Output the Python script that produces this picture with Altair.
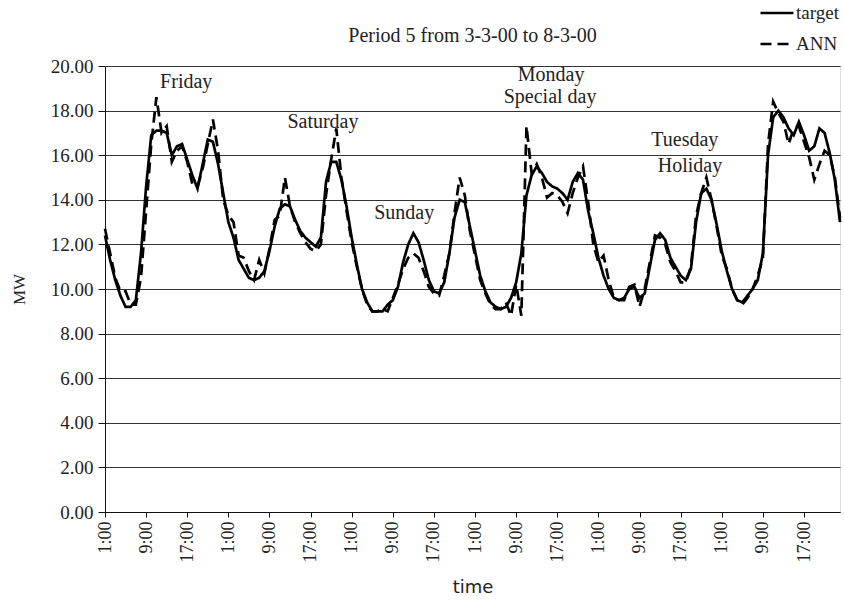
import altair as alt
import pandas as pd

# hourly load, 6 days (Fri 3-3-00 .. Wed 8-3-00), 144 hours
target = [
    12.4, 11.3, 10.4, 9.7, 9.2, 9.2, 9.5, 11.6, 14.6, 16.9, 17.1, 17.1, 17.0, 16.0, 16.4, 16.5, 15.8, 15.1, 14.5, 15.6, 16.7, 16.6, 15.6, 14.3,
    13.0, 12.3, 11.3, 10.9, 10.5, 10.4, 10.5, 10.8, 11.7, 12.8, 13.6, 13.8, 13.7, 13.1, 12.6, 12.3, 12.1, 11.9, 12.3, 14.8, 15.7, 15.7, 14.9, 13.7,
    12.3, 11.1, 10.0, 9.4, 9.0, 9.0, 9.0, 9.3, 9.5, 10.1, 11.2, 12.0, 12.5, 12.1, 11.3, 10.4, 9.9, 9.8, 10.3, 11.6, 13.2, 14.0, 13.9, 12.8,
    11.7, 10.6, 9.9, 9.4, 9.2, 9.1, 9.2, 9.6, 10.3, 11.6, 14.2, 15.1, 15.5, 15.2, 14.8, 14.6, 14.5, 14.3, 14.0, 14.8, 15.2, 14.9, 13.5, 12.5,
    11.4, 10.6, 10.0, 9.6, 9.5, 9.6, 10.0, 10.1, 9.6, 9.8, 11.0, 12.2, 12.5, 12.2, 11.4, 11.0, 10.6, 10.4, 10.9, 13.0, 14.3, 14.5, 14.0, 12.9,
    11.7, 10.8, 10.0, 9.5, 9.4, 9.7, 10.0, 10.4, 11.6, 16.0, 17.7, 18.0, 17.7, 17.2, 16.9, 17.5, 16.9, 16.2, 16.4, 17.2, 17.0, 16.1, 14.9, 13.0,
]
ann = [
    12.7, 11.6, 10.5, 9.9, 9.9, 9.3, 9.3, 10.5, 13.5, 16.5, 18.6, 17.0, 17.3, 15.7, 16.2, 16.4, 15.7, 14.7, 14.6, 15.4, 16.5, 17.6, 16.2, 14.0,
    13.3, 13.0, 11.5, 11.4, 10.8, 10.4, 11.3, 10.7, 11.8, 13.1, 13.3, 15.0, 13.7, 13.0, 12.5, 12.1, 11.8, 11.7, 12.0, 14.2, 15.8, 17.2, 15.0, 13.5,
    12.1, 11.0, 10.0, 9.3, 9.0, 9.0, 9.1, 9.0, 9.6, 10.2, 10.9, 11.4, 11.6, 11.4, 10.8, 10.1, 9.8, 9.7, 10.6, 11.6, 13.4, 15.0, 14.2, 12.6,
    11.5, 10.4, 9.8, 9.3, 9.1, 9.1, 9.4, 8.8, 10.2, 8.8, 17.3, 15.2, 15.6, 15.0, 14.1, 14.3, 14.2, 13.9, 13.4, 14.3, 15.0, 15.5, 13.9, 12.0,
    11.2, 11.5, 10.4, 9.6, 9.5, 9.5, 10.1, 10.2, 9.2, 10.0, 11.2, 12.4, 12.3, 12.0, 11.2, 10.8, 10.3, 10.3, 11.0, 13.3, 14.3, 15.0, 14.0, 12.8,
    11.5, 10.9, 10.0, 9.5, 9.3, 9.6, 10.0, 10.6, 11.4, 16.5, 18.4, 17.9, 17.5, 16.5, 17.2, 17.3, 16.6, 15.9, 14.9, 15.6, 16.2, 16.0, 15.0, 13.2,
]
series_names = ["target", "ANN"]
hour_labels = ["1:00", "9:00", "17:00"]
y_ticks = [0, 2, 4, 6, 8, 10, 12, 14, 16, 18, 20]

note_text = ["Friday", "Saturday", "Sunday", "Monday", "Special day", "Tuesday", "Holiday"]
note_x = [15.8, 42.4, 58.2, 86.8, 86.6, 112.8, 113.8]
note_y = [19.3, 17.5, 13.4, 19.6, 18.6, 16.7, 15.5]

rows = []
for name, vals in zip(series_names, [target, ann]):
    for i, v in enumerate(vals):
        rows.append({"hour": i, "value": v, "series": name})
df = pd.DataFrame(rows)
notes = pd.DataFrame({"x": note_x, "y": note_y, "label": note_text})

SERIF = "Liberation Serif"
lab_arr = "[" + ",".join("'%s'" % s for s in hour_labels) + "]"
label_expr = "datum.value % 8 == 0 ? " + lab_arr + "[(datum.value % 24) / 8] : ''"

x_enc = alt.X(
    "hour:Q",
    scale=alt.Scale(domain=[0, 143], nice=False, zero=False),
    axis=alt.Axis(
        values=list(range(144)), labelExpr=label_expr, labelAngle=270,
        labelFont=SERIF, labelFontSize=18, labelColor="#222",
        labelOverlap=False, labelFlush=False, labelPadding=4,
        tickSize=5, tickColor="#111", domainColor="#111", grid=False,
        title="time", titleFont="DejaVu Sans", titleFontSize=18,
        titleFontWeight="normal", titleColor="#222", titlePadding=16,
    ),
)
y_enc = alt.Y(
    "value:Q",
    scale=alt.Scale(domain=[0, 20], nice=False),
    axis=alt.Axis(
        values=y_ticks, format=".2f", labelFont=SERIF, labelFontSize=19,
        labelColor="#222", tickSize=7, tickColor="#111", domainColor="#111",
        labelPadding=5, grid=True, gridColor="#333", gridWidth=1.2,
        title="MW", titleFont=SERIF, titleFontSize=17, titleFontWeight="normal",
        titleColor="#222", titlePadding=22,
    ),
)

lines = alt.Chart(df).mark_line(color="black", strokeWidth=2.7).encode(
    x=x_enc,
    y=y_enc,
    strokeDash=alt.StrokeDash(
        "series:N",
        scale=alt.Scale(domain=series_names, range=[[1, 0], [11, 6]]),
        legend=alt.Legend(
            title=None, orient="none", legendX=654, legendY=-71,
            symbolType="stroke", symbolSize=1089, symbolStrokeWidth=2.5,
            symbolStrokeColor="black", labelFont=SERIF, labelFontSize=19,
            labelColor="#222", rowPadding=3, labelOffset=1,
        ),
    ),
    order=alt.Order("hour:Q"),
)

text = alt.Chart(notes).mark_text(font=SERIF, fontSize=20, color="#222").encode(
    x="x:Q", y="y:Q", text="label:N"
)

chart = alt.layer(lines, text).properties(
    width=735,
    height=446,
    title=alt.Title(
        "Period 5 from 3-3-00 to 8-3-00", font=SERIF, fontSize=20,
        fontWeight="normal", color="#222", anchor="middle", frame="group",
        offset=0, dy=51,
    ),
    autosize=alt.AutoSizeParams(type="none"),
    padding={"left": 105, "top": 66, "right": 4, "bottom": 92},
).configure_view(stroke="transparent").configure(background="white")

chart.save("out.html", embed_options={"renderer": "svg", "actions": False})
